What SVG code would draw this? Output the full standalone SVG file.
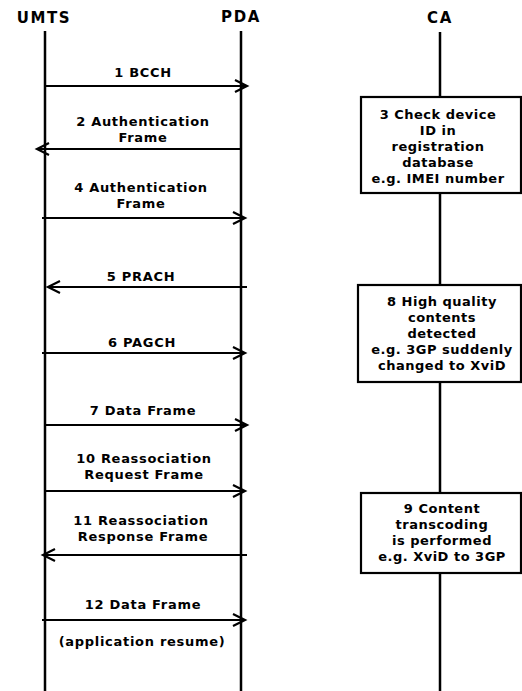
<svg xmlns="http://www.w3.org/2000/svg" width="522" height="691" viewBox="0 0 522 691">
<style>
text{font-family:"DejaVu Sans","Liberation Sans",sans-serif;font-weight:bold;fill:#000;text-anchor:middle}
.t{font-size:15px;letter-spacing:1.6px}
.l{font-size:13px;letter-spacing:0.7px}
.b{font-size:13px;letter-spacing:0.5px}
.life{stroke:#000;stroke-width:2.5;fill:none}
.msg{stroke:#000;stroke-width:2.2;fill:none;marker-end:url(#ah)}
.box{fill:#fff;stroke:#000;stroke-width:2.2}
</style>
<defs>
<marker id="ah" markerUnits="userSpaceOnUse" markerWidth="16" markerHeight="16" viewBox="-14 -8 16 16" refX="0" refY="0" orient="auto" overflow="visible">
<path d="M-12,-6 L0,0 L-12,6" fill="none" stroke="#000" stroke-width="2.2"/>
</marker>
</defs>
<rect width="522" height="691" fill="#fff"/>
<g id="UMTS"><text class="t" x="44" y="23">UMTS</text><line class="life" x1="45" y1="31" x2="45" y2="691"/></g>
<g id="PDA"><text class="t" x="241" y="22">PDA</text><line class="life" x1="241" y1="31" x2="241" y2="691"/></g>
<g id="CA"><text class="t" x="440" y="23">CA</text><line class="life" x1="440" y1="32" x2="440" y2="691"/></g>
<g id="box3"><rect class="box" x="361" y="97" width="160" height="96"/>
<text class="b" x="438"><tspan x="438" y="119">3 Check device</tspan><tspan x="438" y="135">ID in</tspan><tspan x="438" y="151">registration</tspan><tspan x="438" y="167">database</tspan><tspan x="438" y="183">e.g. IMEI number</tspan></text></g>
<g id="box8"><rect class="box" x="358" y="285" width="163" height="97"/>
<text class="b" x="442"><tspan x="442" y="306">8 High quality</tspan><tspan x="442" y="322">contents</tspan><tspan x="442" y="338">detected</tspan><tspan x="442" y="354">e.g. 3GP suddenly</tspan><tspan x="442" y="370">changed to XviD</tspan></text></g>
<g id="box9"><rect class="box" x="361" y="493" width="160" height="80"/>
<text class="b" x="442"><tspan x="442" y="513">9 Content</tspan><tspan x="442" y="529">transcoding</tspan><tspan x="442" y="545">is performed</tspan><tspan x="442" y="561">e.g. XviD to 3GP</tspan></text></g>
<g id="connectors">
<line class="msg" x1="45" y1="86" x2="247" y2="86"/>
<line class="msg" x1="241" y1="149" x2="37" y2="149"/>
<line class="msg" x1="42" y1="218" x2="245" y2="218"/>
<line class="msg" x1="247" y1="287" x2="48" y2="287"/>
<line class="msg" x1="42" y1="353" x2="245" y2="353"/>
<line class="msg" x1="45" y1="425" x2="247" y2="425"/>
<line class="msg" x1="45" y1="491" x2="245" y2="491"/>
<line class="msg" x1="247" y1="555" x2="43" y2="555"/>
<line class="msg" x1="42" y1="620" x2="245" y2="620"/>
</g>
<g id="labels">
<text class="l" x="143" y="77">1 BCCH</text>
<text class="l" x="143" y="126">2 Authentication</text>
<text class="l" x="143" y="142">Frame</text>
<text class="l" x="141" y="192">4 Authentication</text>
<text class="l" x="141" y="208">Frame</text>
<text class="l" x="141" y="281">5 PRACH</text>
<text class="l" x="142" y="347">6 PAGCH</text>
<text class="l" x="143" y="415">7 Data Frame</text>
<text class="l" x="144" y="463">10 Reassociation</text>
<text class="l" x="144" y="479">Request Frame</text>
<text class="l" x="141" y="525">11 Reassociation</text>
<text class="l" x="143" y="541">Response Frame</text>
<text class="l" x="143" y="609">12 Data Frame</text>
<text class="l" x="142" y="646">(application resume)</text>
</g>
</svg>
